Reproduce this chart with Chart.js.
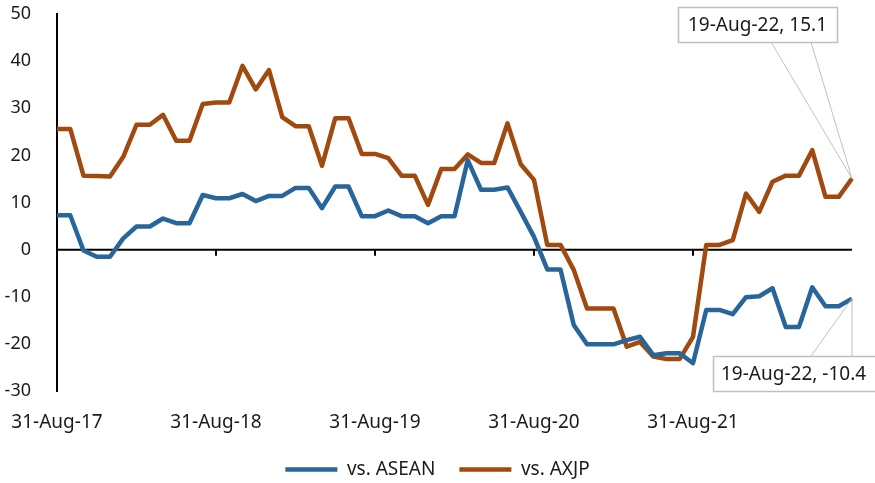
<!DOCTYPE html>
<html>
<head>
<meta charset="utf-8">
<script src="https://cdn.jsdelivr.net/npm/chart.js@4/dist/chart.umd.min.js"></script>
<style>
    html, body { margin: 0; padding: 0; background: #fff; }
    #wrap { width: 875px; height: 483px; }
</style>
</head>
<body>
<div id="wrap"><canvas id="chart" width="875" height="483"></canvas></div>
<script>
// Month-end dates, last point is 19-Aug-22
const dates = [
    '31-Aug-17', '30-Sep-17', '31-Oct-17', '30-Nov-17', '31-Dec-17', '31-Jan-18', '28-Feb-18', '31-Mar-18', '30-Apr-18', '31-May-18', '30-Jun-18', '31-Jul-18',
    '31-Aug-18', '30-Sep-18', '31-Oct-18', '30-Nov-18', '31-Dec-18', '31-Jan-19', '28-Feb-19', '31-Mar-19', '30-Apr-19', '31-May-19', '30-Jun-19', '31-Jul-19',
    '31-Aug-19', '30-Sep-19', '31-Oct-19', '30-Nov-19', '31-Dec-19', '31-Jan-20', '29-Feb-20', '31-Mar-20', '30-Apr-20', '31-May-20', '30-Jun-20', '31-Jul-20',
    '31-Aug-20', '30-Sep-20', '31-Oct-20', '30-Nov-20', '31-Dec-20', '31-Jan-21', '28-Feb-21', '31-Mar-21', '30-Apr-21', '31-May-21', '30-Jun-21', '31-Jul-21',
    '31-Aug-21', '30-Sep-21', '31-Oct-21', '30-Nov-21', '31-Dec-21', '31-Jan-22', '28-Feb-22', '31-Mar-22', '30-Apr-22', '31-May-22', '30-Jun-22', '31-Jul-22',
    '19-Aug-22'
];

// Labels shown on the axis
const tickLabels = ['31-Aug-17', '31-Aug-18', '31-Aug-19', '31-Aug-20', '31-Aug-21'];

const vsAsean = [
    7.3, 7.3, -0.2, -1.5, -1.5, 2.4, 4.9, 4.9, 6.6, 5.6, 5.6, 11.6,
    10.9, 10.9, 11.8, 10.3, 11.4, 11.4, 13.1, 13.1, 8.8, 13.4, 13.4, 7.1,
    7.1, 8.3, 7.1, 7.1, 5.6, 7.1, 7.1, 19.0, 12.7, 12.7, 13.2, 8.0,
    2.7, -4.2, -4.2, -16.0, -20.1, -20.1, -20.1, -19.2, -18.5, -22.4, -22.0, -22.0,
    -24.1, -12.8, -12.8, -13.7, -10.1, -9.9, -8.2, -16.4, -16.4, -8.0, -12.0, -12.0,
    -10.4
];

const vsAxjp = [
    25.6, 25.6, 15.7, 15.6, 15.5, 19.7, 26.5, 26.5, 28.6, 23.1, 23.1, 30.9,
    31.2, 31.2, 39.0, 34.0, 38.1, 28.1, 26.2, 26.2, 17.8, 27.9, 27.9, 20.3,
    20.3, 19.4, 15.7, 15.7, 9.5, 17.1, 17.1, 20.2, 18.4, 18.4, 26.8, 18.1,
    14.8, 1.0, 1.0, -4.3, -12.5, -12.5, -12.5, -20.6, -19.6, -22.7, -23.2, -23.2,
    -18.5, 1.0, 1.0, 2.0, 11.9, 8.0, 14.4, 15.7, 15.7, 21.1, 11.2, 11.2,
    15.1
];

const BLUE = '#28659a';
const ORANGE = '#a04a0f';
const FONT = "'Noto Sans', 'Open Sans', sans-serif";

// zero line with year ticks, drawn under the series
const zeroAxis = {
    id: 'zeroAxis',
    beforeDatasetsDraw(chart) {
        const { ctx, chartArea, scales } = chart;
        const y0 = scales.y.getPixelForValue(0);
        ctx.save();
        ctx.strokeStyle = '#000';
        ctx.lineWidth = 2;
        ctx.beginPath();
        ctx.moveTo(chartArea.left, y0);
        ctx.lineTo(chartArea.right, y0);
        dates.forEach((d, i) => {
            if (tickLabels.includes(d)) {
                const px = Math.round(scales.x.getPixelForValue(i));
                ctx.moveTo(px, y0);
                ctx.lineTo(px, y0 + 6);
            }
        });
        ctx.stroke();
        ctx.restore();
    }
};

// callout boxes for the last values
const callouts = {
    id: 'callouts',
    afterDatasetsDraw(chart) {
        const { ctx, scales } = chart;
        const last = dates.length - 1;
        const px = scales.x.getPixelForValue(last);
        const boxes = [
            { value: vsAxjp[last], left: 678, top: 7, w: 159, h: 35, edge: 'bottom', from: [771, 811], align: 'center' },
            { value: vsAsean[last], left: 713, top: 356, w: 175, h: 35, edge: 'top', from: [811, 852], align: 'left' }
        ];
        ctx.save();
        boxes.forEach(b => {
            const py = scales.y.getPixelForValue(b.value);
            const ey = b.edge === 'bottom' ? b.top + b.h : b.top;
            ctx.strokeStyle = '#c0c0c0';
            ctx.lineWidth = 1;
            ctx.beginPath();
            b.from.forEach(fx => {
                ctx.moveTo(fx, ey);
                ctx.lineTo(px, py);
            });
            ctx.stroke();
            ctx.fillStyle = '#fff';
            ctx.fillRect(b.left, b.top, b.w, b.h);
            ctx.lineWidth = 1.5;
            ctx.strokeRect(b.left + 0.5, b.top + 0.5, b.w, b.h);
            ctx.fillStyle = '#1a1a1a';
            ctx.font = '19px ' + FONT;
            ctx.textBaseline = 'middle';
            const text = dates[last] + ', ' + b.value.toFixed(1);
            if (b.align === 'center') {
                ctx.textAlign = 'center';
                ctx.fillText(text, b.left + b.w / 2, b.top + b.h / 2 + 1);
            } else {
                ctx.textAlign = 'left';
                ctx.fillText(text, b.left + 8, b.top + b.h / 2 + 1);
            }
        });
        ctx.restore();
    }
};

const ctx = document.getElementById('chart').getContext('2d');
new Chart(ctx, {
    type: 'line',
    data: {
        labels: dates,
        datasets: [{
            label: 'vs. ASEAN',
            data: vsAsean,
            borderColor: BLUE,
            backgroundColor: BLUE,
            borderWidth: 4.5,
            borderJoinStyle: 'round',
            pointRadius: 0,
            tension: 0
        }, {
            label: 'vs. AXJP',
            data: vsAxjp,
            borderColor: ORANGE,
            backgroundColor: ORANGE,
            borderWidth: 4.5,
            borderJoinStyle: 'round',
            pointRadius: 0,
            tension: 0
        }]
    },
    options: {
        responsive: false,
        animation: false,
        layout: { padding: { left: 0, right: 0, top: 14, bottom: -6 } },
        plugins: {
            legend: {
                position: 'bottom',
                labels: {
                    usePointStyle: true,
                    pointStyle: 'line',
                    pointStyleWidth: 52,
                    boxHeight: 5,
                    color: '#1a1a1a',
                    padding: 24,
                    font: { family: FONT, size: 19 }
                }
            },
            tooltip: { enabled: false }
        },
        scales: {
            x: {
                offset: false,
                afterFit: scale => {
                    scale.height = 45;
                    scale.paddingLeft = 0;
                    scale.paddingRight = 23;
                },
                grid: { display: false },
                border: { display: false },
                ticks: {
                    autoSkip: false,
                    maxRotation: 0,
                    padding: 12,
                    color: '#1a1a1a',
                    font: { family: FONT, size: 19 },
                    callback: function (value, index) {
                        const d = dates[index];
                        return tickLabels.includes(d) ? d : '';
                    }
                }
            },
            y: {
                min: -30,
                max: 50,
                afterFit: scale => {
                    scale.width = 57;
                    scale.paddingTop = 0;
                    scale.paddingBottom = 0;
                },
                grid: { display: false },
                border: { display: true, color: '#000', width: 2 },
                ticks: {
                    stepSize: 10,
                    padding: 18,
                    color: '#1a1a1a',
                    font: { family: FONT, size: 18 }
                }
            }
        }
    },
    plugins: [zeroAxis, callouts]
});
</script>
</body>
</html>
